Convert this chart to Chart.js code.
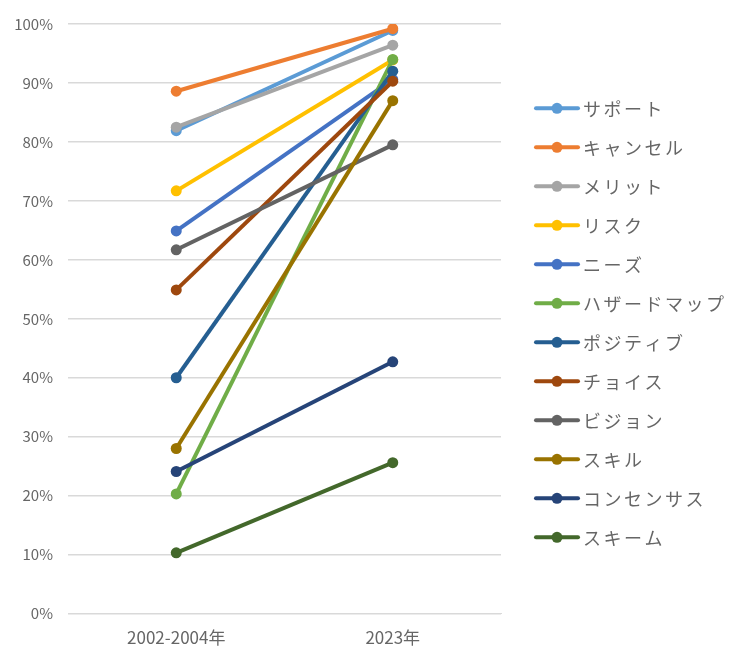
<!DOCTYPE html>
<html>
<head>
<meta charset="utf-8">
<script src="https://cdn.jsdelivr.net/npm/chart.js@4"></script>
<style>
    html, body { margin: 0; padding: 0; background: #fff; }
    #wrap { width: 730px; height: 649px; }
</style>
</head>
<body>
<div id="wrap"><canvas id="reportChart"></canvas></div>
<script>
// 期間（カテゴリ）
const categories = ["2002-2004年", "2023年"];

// 系列名
const seriesNames = ["サポート", "キャンセル", "メリット", "リスク", "ニーズ", "ハザードマップ",
    "ポジティブ", "チョイス", "ビジョン", "スキル", "コンセンサス", "スキーム"];

// 値（%）
const supportValues = [81.9, 98.9];
const cancelValues = [88.6, 99.2];
const meritValues = [82.5, 96.4];
const riskValues = [71.7, 93.9];
const needsValues = [64.9, 90.6];
const hazardMapValues = [20.3, 94.0];
const positiveValues = [40.0, 92.0];
const choiceValues = [54.9, 90.3];
const visionValues = [61.7, 79.5];
const skillValues = [28.0, 87.0];
const consensusValues = [24.1, 42.7];
const schemeValues = [10.3, 25.6];

// 目盛り
const yTicks = [0, 10, 20, 30, 40, 50, 60, 70, 80, 90, 100];

const seriesValues = [supportValues, cancelValues, meritValues, riskValues, needsValues, hazardMapValues,
    positiveValues, choiceValues, visionValues, skillValues, consensusValues, schemeValues];

const colors = ["#5B9BD5", "#ED7D31", "#A5A5A5", "#FFC000", "#4472C4", "#70AD47",
    "#255E91", "#9E480E", "#636363", "#997300", "#264478", "#43682B"];

const FONT = "'Noto Sans CJK JP', 'Noto Sans', sans-serif";

// 凡例（右側、線＋丸マーカー）
const sideLegend = {
    id: "sideLegend",
    afterDraw(chart) {
        const g = chart.ctx;
        const ds = chart.data.datasets;
        const step = 39;
        const x0 = 536, x1 = 578;
        const cy = (chart.chartArea.top + chart.chartArea.bottom) / 2 + 4;
        let y = cy - step * (ds.length - 1) / 2;
        g.save();
        g.font = "18px " + FONT;
        g.letterSpacing = "2.5px";
        g.textBaseline = "middle";
        ds.forEach(d => {
            g.strokeStyle = d.borderColor;
            g.lineWidth = 4;
            g.lineCap = "round";
            g.beginPath();
            g.moveTo(x0, y);
            g.lineTo(x1, y);
            g.stroke();
            g.fillStyle = d.borderColor;
            g.beginPath();
            g.arc((x0 + x1) / 2, y, 5.5, 0, Math.PI * 2);
            g.fill();
            g.fillStyle = "#666666";
            g.fillText(d.label, 583, y + 1);
            y += step;
        });
        g.restore();
    }
};

const datasets = seriesNames.map((name, i) => ({
    label: name,
    data: seriesValues[i],
    borderColor: colors[i],
    backgroundColor: colors[i],
    borderWidth: 4,
    pointRadius: 5.5,
    pointHoverRadius: 5.5,
    pointBorderWidth: 0,
    order: -i
}));

const ctx = document.getElementById("reportChart").getContext("2d");
new Chart(ctx, {
    type: "line",
    data: { labels: categories, datasets: datasets },
    plugins: [sideLegend],
    options: {
        responsive: true,
        maintainAspectRatio: false,
        animation: false,
        layout: { padding: { top: 14, right: 229, bottom: -5, left: 0 } },
        plugins: {
            tooltip: { enabled: false },
            legend: { display: false }
        },
        scales: {
            x: {
                offset: true,
                grid: { display: false },
                border: { color: "#d9d9d9" },
                ticks: { color: "#666666", font: { family: FONT, size: 17 }, padding: 6 }
            },
            y: {
                min: 0,
                max: 100,
                afterBuildTicks: axis => { axis.ticks = yTicks.map(v => ({ value: v })); },
                afterFit: axis => { axis.width = 68; },
                grid: { color: "#d9d9d9", lineWidth: 1.5, drawTicks: false },
                border: { display: false },
                ticks: {
                    color: "#666666",
                    font: { family: FONT, size: 15 },
                    padding: 15,
                    callback: v => v + "%"
                }
            }
        }
    }
});
</script>
</body>
</html>
